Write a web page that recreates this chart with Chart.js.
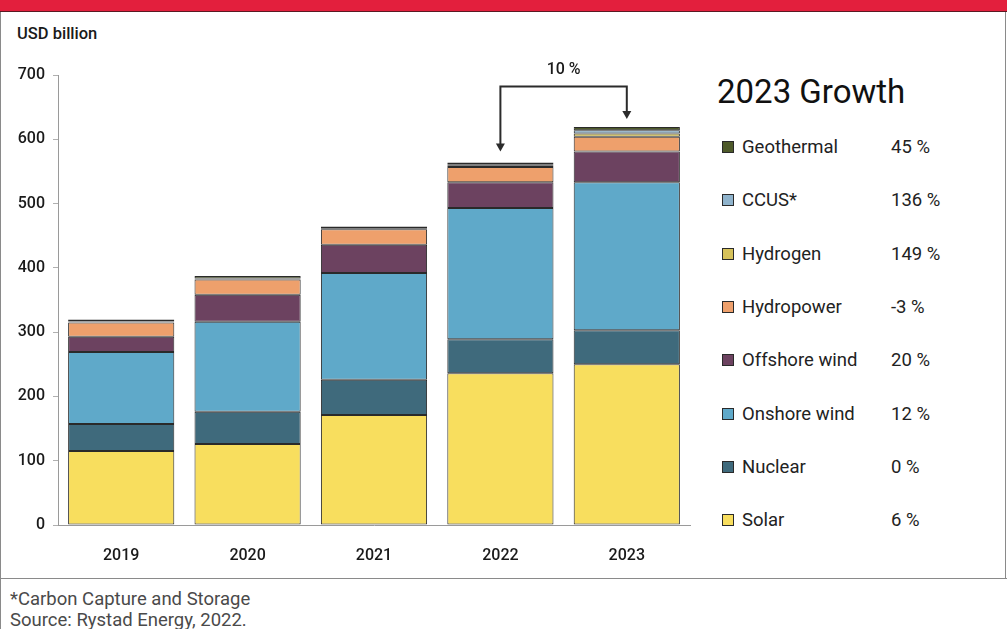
<!DOCTYPE html>
<html>
<head>
<meta charset="utf-8">
<script src="https://cdn.jsdelivr.net/npm/chart.js@4.4.0/dist/chart.umd.min.js"></script>
<style>
    body { margin: 0; width: 1007px; height: 629px; overflow: hidden; background: #fff; font-family: Roboto, sans-serif; position: relative; }
    .header { position: absolute; left: 0; top: 0; width: 1007px; height: 11px; background: #e31f3d; border-bottom: 1px solid #5a1a22; }
    .frame-left { position: absolute; left: 0; top: 12px; width: 1px; height: 617px; background: #8a8a8a; }
    .frame-right { position: absolute; left: 1005px; top: 12px; width: 1px; height: 566px; background: #8a8a8a; }
    .frame-bottom { position: absolute; left: 0; top: 578px; width: 1007px; height: 1px; background: #8a8a8a; }
    .unit { position: absolute; left: 17px; top: 24px; font-size: 16.5px; font-weight: 500; color: #1a1a1a; }
    #myChart { position: absolute; left: 0; top: 12px; }
    .growth-title { position: absolute; left: 717px; top: 72px; font-size: 33px; color: #111; }
    .legend-row { position: absolute; left: 722px; height: 22px; font-size: 18.5px; color: #222; }
    .legend-row .box { position: absolute; left: 0; top: 5px; width: 10px; height: 10px; border: 1px solid #2a2a2a; }
    .legend-row .name { position: absolute; left: 20px; top: 0; white-space: nowrap; }
    .legend-row .pct { position: absolute; left: 169px; top: 0; white-space: nowrap; }
    .foot { position: absolute; left: 10px; font-size: 18.5px; color: #4a4a4a; }
</style>
</head>
<body>
<div class="header"></div>
<div class="frame-left"></div>
<div class="frame-right"></div>
<div class="frame-bottom"></div>
<div class="unit">USD billion</div>
<canvas id="myChart" width="700" height="566"></canvas>
<div class="growth-title">2023 Growth</div>
<div id="legend"></div>
<div class="foot" style="top: 588px;">*Carbon Capture and Storage</div>
<div class="foot" style="top: 609px;">Source: Rystad Energy, 2022.</div>

<script>
const years = ['2019', '2020', '2021', '2022', '2023'];
const solar = [115, 126, 171, 236, 250];
const nuclear = [42, 50, 55, 53, 53];
const onshoreWind = [112, 140, 166, 204, 230];
const offshoreWind = [24, 42, 44, 40, 48];
const hydropower = [22, 24, 24, 24, 23];
const hydrogen = [0.5, 0.5, 0.5, 2, 5];
const ccus = [1, 1, 1, 2, 5];
const geothermal = [3, 4, 3, 3, 5];

const seriesNames = ['Solar', 'Nuclear', 'Onshore wind', 'Offshore wind', 'Hydropower', 'Hydrogen', 'CCUS*', 'Geothermal'];
const growth2023 = ['6 %', '0 %', '12 %', '20 %', '-3 %', '149 %', '136 %', '45 %'];
const yTicks = [0, 100, 200, 300, 400, 500, 600, 700];
const changeLabel = '10 %';

const colors = ['#f8de5e', '#3f6a7c', '#5fa9c9', '#6c4260', '#eea06c', '#d6c25a', '#8fb3cc', '#4e5a2a'];
const allSeries = [solar, nuclear, onshoreWind, offshoreWind, hydropower, hydrogen, ccus, geothermal];

// legend on the right, top row is the last series
const legend = document.getElementById('legend');
for (let i = seriesNames.length - 1; i >= 0; i--) {
    const row = document.createElement('div');
    row.className = 'legend-row';
    row.style.top = (136 + (seriesNames.length - 1 - i) * 53.3) + 'px';
    row.innerHTML = '<div class="box" style="background:' + colors[i] + '"></div>' +
        '<span class="name">' + seriesNames[i] + '</span><span class="pct">' + growth2023[i] + '</span>';
    legend.appendChild(row);
}

// bracket arrow between 2022 and 2023 totals
const arrowPlugin = {
    id: 'arrowPlugin',
    afterDatasetsDraw(chart) {
        const ctx = chart.ctx;
        const x = chart.scales.x;
        const y = chart.scales.y;
        const total = (i) => allSeries.reduce((a, s) => a + s[i], 0);
        const x1 = x.getPixelForValue(3);
        const x2 = x.getPixelForValue(4);
        const yTop = y.getPixelForValue(682);
        const tip1 = y.getPixelForValue(total(3)) - 11;
        const tip2 = y.getPixelForValue(total(4)) - 8;

        ctx.save();
        ctx.strokeStyle = '#2b2b2b';
        ctx.fillStyle = '#2b2b2b';
        ctx.lineWidth = 2;
        ctx.beginPath();
        ctx.moveTo(x1, tip1 - 6);
        ctx.lineTo(x1, yTop);
        ctx.lineTo(x2, yTop);
        ctx.lineTo(x2, tip2 - 6);
        ctx.stroke();
        [[x1, tip1], [x2, tip2]].forEach(([ax, ay]) => {
            ctx.beginPath();
            ctx.moveTo(ax - 4.5, ay - 8);
            ctx.lineTo(ax + 4.5, ay - 8);
            ctx.lineTo(ax, ay);
            ctx.closePath();
            ctx.fill();
        });
        ctx.font = '500 16px Roboto';
        ctx.textAlign = 'center';
        ctx.textBaseline = 'middle';
        ctx.fillStyle = '#1a1a1a';
        ctx.fillText(changeLabel, (x1 + x2) / 2, yTop - 17);
        ctx.restore();
    }
};

const ctx = document.getElementById('myChart').getContext('2d');
window.myChartInstance = new Chart(ctx, {
    type: 'bar',
    data: {
        labels: years,
        datasets: allSeries.map((s, i) => ({
            label: seriesNames[i],
            data: s,
            backgroundColor: colors[i],
            borderColor: '#2a2a2a',
            borderWidth: 1,
            borderSkipped: false,
            categoryPercentage: 1,
            barPercentage: 0.84
        }))
    },
    options: {
        responsive: false,
        devicePixelRatio: 1,
        animation: false,
        layout: { padding: { top: 63, right: 10, left: 0, bottom: 0 } },
        plugins: {
            legend: { display: false },
            tooltip: { enabled: false }
        },
        scales: {
            x: {
                stacked: true,
                grid: { display: false },
                border: { display: true, color: '#9a9a9a', width: 1 },
                ticks: { color: '#1a1a1a', font: { family: 'Roboto', size: 16, weight: '500' }, padding: 13 },
                afterFit: (s) => { s.height = 53; }
            },
            y: {
                stacked: true,
                min: 0,
                max: 700,
                afterBuildTicks: (s) => { s.ticks = yTicks.map(v => ({ value: v })); },
                grid: { drawOnChartArea: false, tickLength: 5, color: '#b0b0b0' },
                border: { display: true, color: '#9a9a9a', width: 1 },
                ticks: { color: '#1a1a1a', font: { family: 'Roboto', size: 16, weight: '500' }, padding: 8 },
                afterFit: (s) => { s.width = 58; }
            }
        }
    },
    plugins: [arrowPlugin]
});
</script>
</body>
</html>
